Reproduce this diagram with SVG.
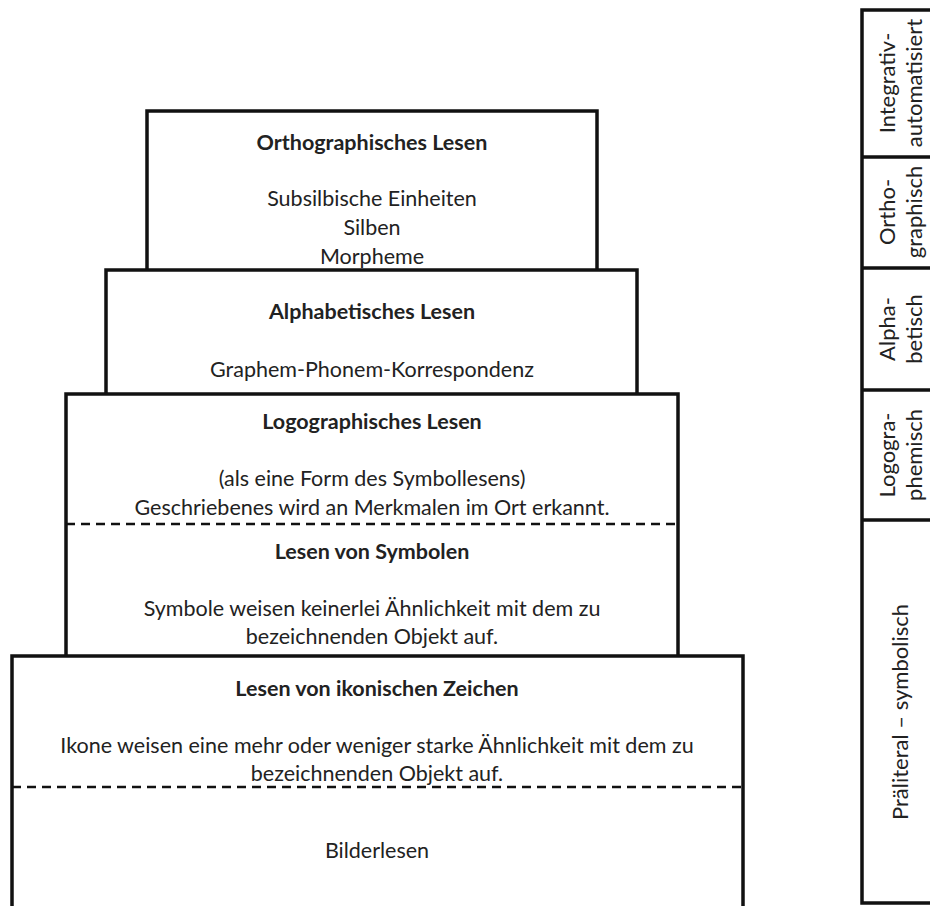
<svg xmlns="http://www.w3.org/2000/svg" width="930" height="906" viewBox="0 0 930 906">
<style>
.box{fill:#fff;stroke:#111;stroke-width:3.5}
.side{fill:none;stroke:#111;stroke-width:3.5}
.dash{fill:none;stroke:#111;stroke-width:2.5;stroke-dasharray:9 6}
text{font-family:Lato,"Open Sans","Liberation Sans",sans-serif;font-size:21.5px;fill:#222;text-anchor:middle}
.b{font-weight:bold}
.v{font-size:22px}
</style>
<rect width="930" height="906" fill="#fff"/>
<g id="orthographisch">
<rect class="box" x="147" y="111" width="450" height="170"/>
<text class="b" x="372" y="150">Orthographisches Lesen</text>
<text x="372" y="206">Subsilbische Einheiten</text>
<text x="372" y="235">Silben</text>
<text x="372" y="264">Morpheme</text>
</g>
<g id="alphabetisch">
<rect class="box" x="106" y="270" width="531" height="134"/>
<text class="b" x="372" y="319">Alphabetisches Lesen</text>
<text x="372" y="377">Graphem-Phonem-Korrespondenz</text>
</g>
<g id="logographisch">
<rect class="box" x="66" y="394" width="612" height="272"/>
<text class="b" x="372" y="429">Logographisches Lesen</text>
<text x="372" y="486">(als eine Form des Symbollesens)</text>
<text x="372" y="515">Geschriebenes wird an Merkmalen im Ort erkannt.</text>
<line class="dash" x1="66" y1="524" x2="678" y2="524"/>
<text class="b" x="372" y="559">Lesen von Symbolen</text>
<text x="372" y="616">Symbole weisen keinerlei Ähnlichkeit mit dem zu</text>
<text x="372" y="644">bezeichnenden Objekt auf.</text>
</g>
<g id="ikonisch">
<rect class="box" x="12" y="656" width="731" height="270"/>
<text class="b" x="377" y="696">Lesen von ikonischen Zeichen</text>
<text x="377" y="753">Ikone weisen eine mehr oder weniger starke Ähnlichkeit mit dem zu</text>
<text x="377" y="781">bezeichnenden Objekt auf.</text>
<line class="dash" x1="12" y1="787" x2="743" y2="787"/>
<text x="377" y="858">Bilderlesen</text>
</g>
<g id="stufen">
<rect class="box" x="862" y="10" width="90" height="893"/>
<line class="side" x1="862" y1="157" x2="935" y2="157"/>
<line class="side" x1="862" y1="268" x2="935" y2="268"/>
<line class="side" x1="862" y1="390" x2="935" y2="390"/>
<line class="side" x1="862" y1="520" x2="935" y2="520"/>
<text class="v" transform="translate(895 83) rotate(-90)">Integrativ-</text>
<text class="v" transform="translate(922 83) rotate(-90)">automatisiert</text>
<text class="v" transform="translate(895 212) rotate(-90)">Ortho-</text>
<text class="v" transform="translate(922 212) rotate(-90)">graphisch</text>
<text class="v" transform="translate(895 329) rotate(-90)">Alpha-</text>
<text class="v" transform="translate(922 329) rotate(-90)">betisch</text>
<text class="v" transform="translate(895 455) rotate(-90)">Logogra-</text>
<text class="v" transform="translate(922 455) rotate(-90)">phemisch</text>
<text class="v" transform="translate(908 712) rotate(-90)">Präliteral – symbolisch</text>
</g>
</svg>
